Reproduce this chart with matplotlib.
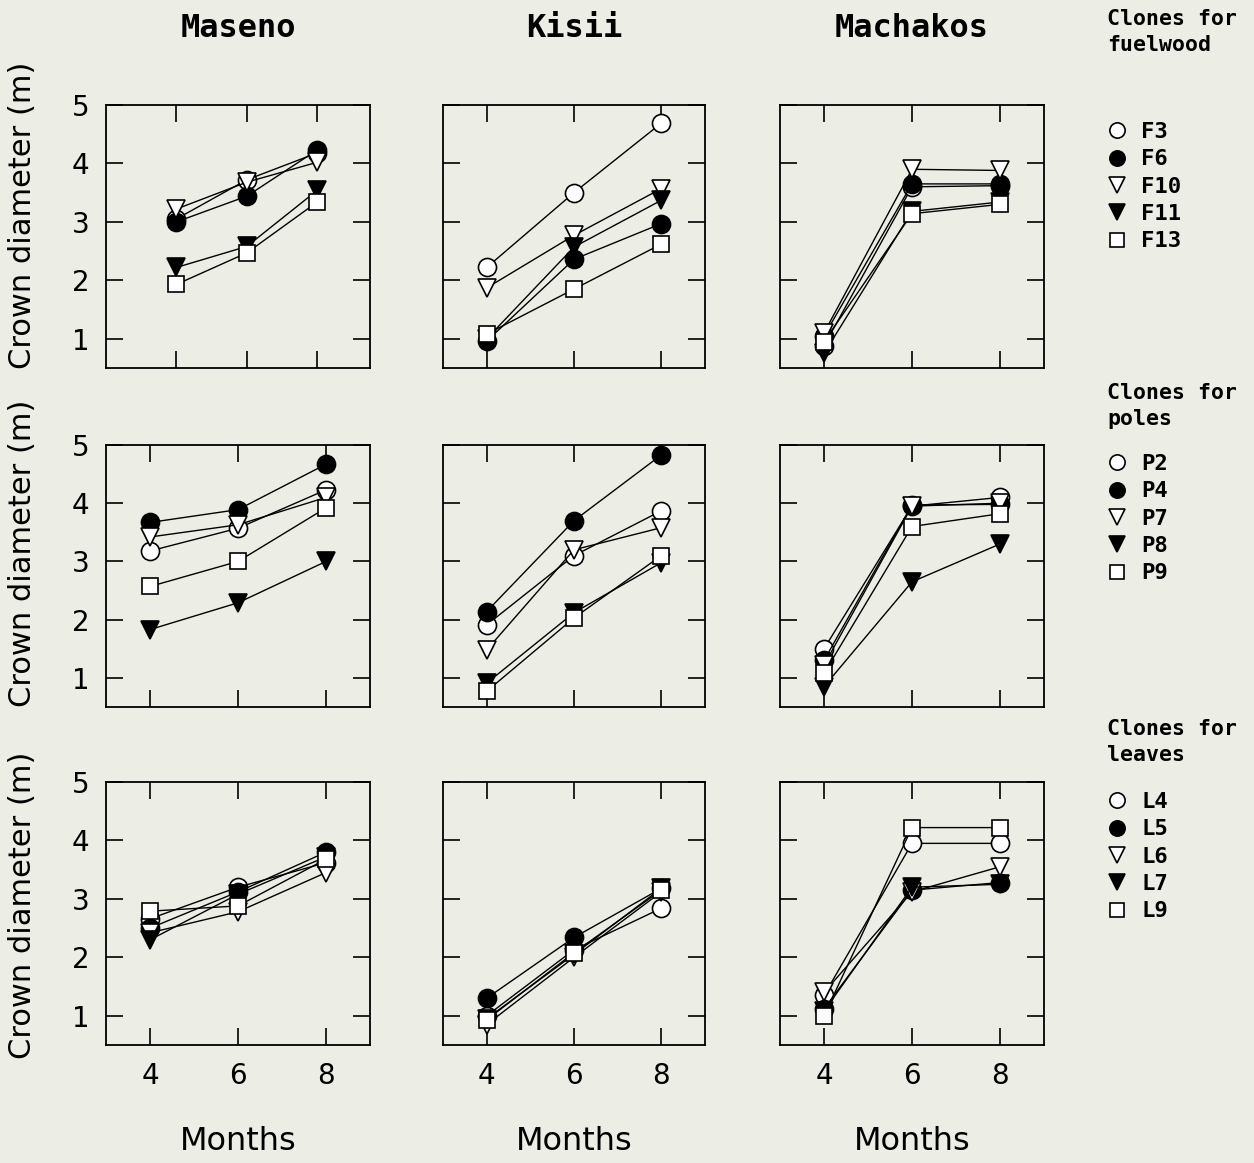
import matplotlib
matplotlib.use("Agg")
import matplotlib.pyplot as plt
from matplotlib.lines import Line2D

months = [4, 6, 8]
sites = ["Maseno", "Kisii", "Machakos"]

fuel_clones = ["F3", "F6", "F10", "F11", "F13"]
maseno_fuel = [[3.05, 3.72, 4.18], [3.00, 3.44, 4.23], [3.22, 3.68, 4.02], [2.22, 2.58, 3.54], [1.93, 2.47, 3.34]]
kisii_fuel = [[2.22, 3.50, 4.69], [0.96, 2.36, 2.97], [1.87, 2.77, 3.57], [1.00, 2.57, 3.37], [1.08, 1.85, 2.62]]
machakos_fuel = [[0.88, 3.60, 3.62], [1.05, 3.65, 3.65], [1.10, 3.90, 3.88], [0.75, 3.18, 3.34], [0.95, 3.14, 3.30]]

pole_clones = ["P2", "P4", "P7", "P8", "P9"]
maseno_poles = [[3.18, 3.57, 4.23], [3.67, 3.89, 4.67], [3.42, 3.63, 4.10], [1.83, 2.29, 3.00], [2.57, 3.00, 3.92]]
kisii_poles = [[1.91, 3.10, 3.87], [2.14, 3.70, 4.83], [1.48, 3.20, 3.58], [0.91, 2.12, 2.98], [0.77, 2.03, 3.10]]
machakos_poles = [[1.50, 3.95, 4.10], [1.30, 3.97, 3.98], [1.22, 3.95, 4.00], [0.85, 2.65, 3.30], [1.08, 3.60, 3.82]]

leaf_clones = ["L4", "L5", "L6", "L7", "L9"]
maseno_leaves = [[2.66, 3.20, 3.62], [2.50, 3.12, 3.80], [2.42, 2.78, 3.45], [2.30, 3.08, 3.72], [2.79, 2.88, 3.68]]
kisii_leaves = [[1.00, 2.13, 2.84], [1.30, 2.34, 3.18], [0.85, 2.00, 3.12], [0.95, 2.05, 3.18], [0.93, 2.08, 3.15]]
machakos_leaves = [[1.35, 3.95, 3.95], [1.12, 3.15, 3.28], [1.40, 3.12, 3.55], [1.08, 3.20, 3.25], [1.00, 4.22, 4.22]]

group_titles = ["Clones for\nfuelwood", "Clones for\npoles", "Clones for\nleaves"]
yticks = [1, 2, 3, 4, 5]

rows = [
    (fuel_clones, [maseno_fuel, kisii_fuel, machakos_fuel]),
    (pole_clones, [maseno_poles, kisii_poles, machakos_poles]),
    (leaf_clones, [maseno_leaves, kisii_leaves, machakos_leaves]),
]

# marker styles: open circle, filled circle, open tri-down, filled tri-down, open square
styles = [("o", "white"), ("o", "black"), ("v", "white"), ("v", "black"), ("s", "white")]
msizes = [13, 13, 13, 13, 11.5]

BG = "#eceee6"
W, H = 1254, 1163
fig = plt.figure(figsize=(W / 100, H / 100), dpi=100, facecolor=BG)

col_lr = [(106, 370), (443, 705), (780, 1044)]
row_tb = [(105, 368), (445, 707), (782, 1045)]
ylabel_centers = [215, 553, 905]

mono = "DejaVu Sans Mono"

for r, (clones, site_data) in enumerate(rows):
    for c, data in enumerate(site_data):
        l, rr = col_lr[c]
        t, b = row_tb[r]
        ax = fig.add_axes([l / W, 1 - b / H, (rr - l) / W, (b - t) / H])
        ax.set_facecolor(BG)
        for k, vals in enumerate(data):
            mk, fc = styles[k]
            ax.plot(months, vals, color="black", lw=1.0, marker=mk, ms=msizes[k],
                    mfc=fc, mec="black", mew=1.2, zorder=3 + k)
        if r == 0 and c == 0:
            ax.set_xlim(2, 9.5)
        else:
            ax.set_xlim(3, 9)
        ax.set_ylim(0.5, 5.0)
        ax.set_xticks(months)
        ax.set_yticks(yticks)
        ax.tick_params(direction="in", length=12, width=1.2, top=True, right=True,
                       labelsize=20, pad=12)
        if c != 0:
            ax.set_yticklabels([])
        if r != 2:
            ax.set_xticklabels([])
        for s in ax.spines.values():
            s.set_linewidth(1.3)
        if r == 0:
            ax.set_title(sites[c], fontsize=23, fontweight="bold", family=mono, pad=49)
        if r == 2:
            ax.set_xlabel("Months", fontsize=23, labelpad=26)
    fig.text(23 / W, 1 - ylabel_centers[r] / H, "Crown diameter (m)", rotation=90,
             ha="center", va="center", fontsize=22)

    # legend for the row
    handles = []
    for k, name in enumerate(clones):
        mk, fc = styles[k]
        handles.append(Line2D([], [], ls="none", marker=mk, ms=11 if mk != "s" else 10,
                              mfc=fc, mec="black", mew=1.2, label=name))
    title_y = [9, 383, 719][r]
    entry_y = [122, 454, 792][r]
    fig.text(1107 / W, 1 - title_y / H, group_titles[r], ha="left", va="top",
             fontsize=15.5, fontweight="bold", family=mono, linespacing=1.35)
    fig.legend(handles=handles, loc="upper left", bbox_to_anchor=(1108 / W, 1 - entry_y / H),
               frameon=False, handlelength=0.8, handletextpad=0.7, labelspacing=0.33,
               borderaxespad=0, borderpad=0,
               prop={"family": mono, "weight": "bold", "size": 16})

fig.savefig("out.png", dpi=100, facecolor=BG)
